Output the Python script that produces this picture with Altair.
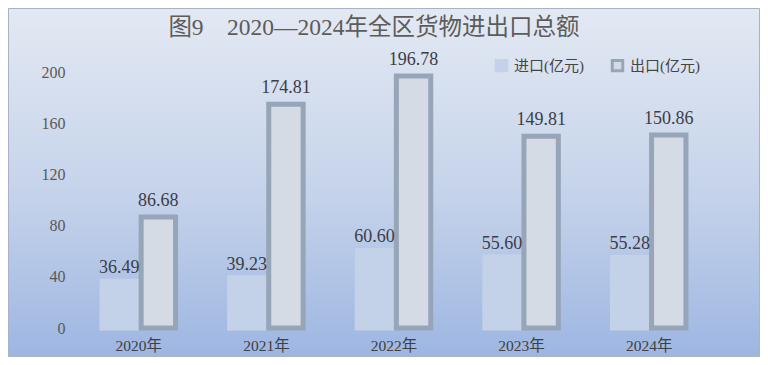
import altair as alt
import pandas as pd

years = ["2020年", "2021年", "2022年", "2023年", "2024年"]
imports = [36.49, 39.23, 60.60, 55.60, 55.28]
exports = [86.68, 174.81, 196.78, 149.81, 150.86]
series = ["进口(亿元)", "出口(亿元)"]
y_ticks = [0, 40, 80, 120, 160, 200]

rows = []
for i, y in enumerate(years):
    rows.append({"year": y, "series": series[0], "value": imports[i]})
    rows.append({"year": y, "series": series[1], "value": exports[i]})
df = pd.DataFrame(rows)

W, H = 638, 256
PL, PT, PR, PB = 67, 64, 47, 29

serif_cjk = "Liberation Serif, Noto Sans CJK SC"

bg = alt.Chart(alt.Data(values=[{"a": 1}])).mark_rect(
    color=alt.Gradient(
        gradient="linear",
        stops=[alt.GradientStop(color="#e3e9f3", offset=0),
               alt.GradientStop(color="#c4d2ea", offset=0.55),
               alt.GradientStop(color="#9db6e2", offset=1)],
        x1=0, x2=0, y1=0, y2=1),
    stroke="#aab3c4", strokeWidth=1,
).encode(
    x=alt.value(-PL + 0.5), x2=alt.value(W + PR - 0.5),
    y=alt.value(-PT + 0.5), y2=alt.value(H + PB - 0.5),
)

x_enc = alt.X("year:N", sort=years,
              scale=alt.Scale(paddingInner=0.424, paddingOuter=0.212),
              axis=alt.Axis(title=None, labelAngle=0, ticks=False, domain=False,
                            labelFont=serif_cjk, labelFontSize=15.5,
                            labelColor="#404040", labelPadding=10, zindex=1))
y_enc = alt.Y("value:Q",
              scale=alt.Scale(domain=[0, 200], nice=False),
              axis=alt.Axis(title=None, values=y_ticks, ticks=False, domain=False,
                            grid=False, labelFont="Liberation Serif",
                            labelFontSize=16, labelColor="#595959",
                            labelPadding=10, zindex=1))
xoff = alt.XOffset("series:N", sort=series,
                   scale=alt.Scale(paddingInner=0.12))

legend = alt.Legend(
    title=None, orient="none", legendX=419, legendY=-14, direction="horizontal",
    symbolType="square", symbolSize=110, symbolStrokeWidth=3,
    labelFont=serif_cjk,
    labelFontSize=15, labelColor="#454545", columnPadding=22, labelOffset=5,
)

shadow = alt.Chart(df).transform_filter(
    alt.datum.series == series[0]
).mark_bar(color="#aebfd8", xOffset=-3, stroke="#aebfd8", strokeWidth=5).encode(
    x=x_enc, xOffset=xoff, y=y_enc,
)

bars = alt.Chart(df).mark_bar(strokeWidth=5).encode(
    x=x_enc, xOffset=xoff, y=y_enc,
    color=alt.Color("series:N", sort=series,
                    scale=alt.Scale(domain=series, range=["#c3d2e8", "#d5dbe4"]),
                    legend=legend),
    stroke=alt.Stroke("series:N", sort=series,
                      scale=alt.Scale(domain=series, range=["#c3d2e8", "#97a5b9"]),
                      legend=legend),
)

txt_imp = alt.Chart(df).transform_filter(alt.datum.series == series[0]).mark_text(
    baseline="alphabetic", dy=-8, font="Liberation Serif", fontSize=18, color="#3d3d45"
).encode(x=x_enc, xOffset=xoff, y=y_enc, text=alt.Text("value:Q", format=".2f"))

txt_exp = alt.Chart(df).transform_filter(alt.datum.series == series[1]).mark_text(
    baseline="alphabetic", dy=-11, font="Liberation Serif", fontSize=18, color="#3d3d45"
).encode(x=x_enc, xOffset=xoff, y=y_enc, text=alt.Text("value:Q", format=".2f"))

chart = alt.layer(bg, shadow, bars, txt_imp, txt_exp).properties(
    width=W, height=H,
    autosize=alt.AutoSizeParams(type="none"),
    padding={"left": PL, "top": PT, "right": PR, "bottom": PB},
    title=alt.TitleParams(
        text="图9　2020—2024年全区货物进出口总额",
        font=serif_cjk, fontSize=23.5, fontWeight="normal", color="#5c5c5c",
        anchor="middle", dx=-20, offset=0, dy=31,
    ),
).configure_view(stroke=None).configure(background="#e3e9f3")

chart.save("out.html", embed_options={"renderer": "svg", "actions": False})
